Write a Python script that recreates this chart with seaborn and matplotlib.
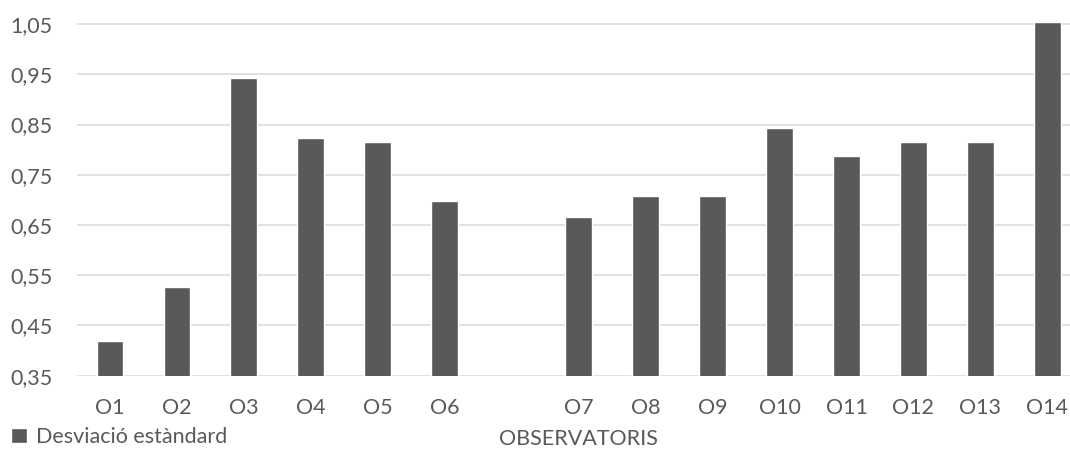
import matplotlib
matplotlib.use("Agg")
import matplotlib.pyplot as plt
import seaborn as sns
import numpy as np
import pandas as pd
from matplotlib.ticker import FixedLocator, FuncFormatter

categories = ["O1", "O2", "O3", "O4", "O5", "O6", "", "O7", "O8", "O9",
              "O10", "O11", "O12", "O13", "O14"]
values = [0.42, 0.526, 0.942, 0.823, 0.816, 0.698, np.nan, 0.666, 0.707,
          0.707, 0.843, 0.788, 0.816, 0.816, 1.054]
y_ticks = [0.35, 0.45, 0.55, 0.65, 0.75, 0.85, 0.95, 1.05]
series_name = "Desviació estàndard"
x_title = "OBSERVATORIS"

sns.set_theme(style="white")
plt.rcParams["font.family"] = ["Lato", "DejaVu Sans"]

df = pd.DataFrame({"cat": pd.Categorical(categories, categories=categories, ordered=True),
                   "val": values})

fig = plt.figure(figsize=(10.7, 4.51), dpi=100)
ax = fig.add_axes([76.5 / 1070, (451 - 375.7) / 451, (1080.8 - 76.5) / 1070,
                   (375.7 - 14) / 451])

sns.barplot(data=df, x="cat", y="val", order=categories, color="#595959",
            saturation=1, width=0.4, ax=ax, label=series_name, errorbar=None)

fs = 15.5
ax.set_ylim(0.35, 1.07)
ax.set_xlim(-0.5, 14.5)
ax.yaxis.set_major_locator(FixedLocator(y_ticks))
ax.yaxis.set_major_formatter(FuncFormatter(lambda v, p: f"{v:.2f}".replace(".", ",")))
ax.grid(axis="y", color="#d9d9d9", linewidth=1.1)
ax.set_axisbelow(True)
for s in ax.spines.values():
    s.set_visible(False)
ax.tick_params(axis="both", length=0, labelsize=fs, colors="#595959")
ax.tick_params(axis="y", pad=17)
ax.tick_params(axis="x", pad=16)
ax.set_ylabel("")
ax.set_xlabel("")
fig.text(578.6 / 1070, 1 - 439 / 451, x_title, ha="center", va="center",
         fontsize=fs, color="#595959")

leg = ax.legend(loc="center left", bbox_to_anchor=(0.0, 1 - 437 / 451),
                bbox_transform=fig.transFigure, frameon=False, fontsize=fs,
                handlelength=0.75, handleheight=0.75, handletextpad=0.4,
                borderpad=0, borderaxespad=0.5)
for t in leg.get_texts():
    t.set_color("#595959")

fig.savefig("out.png", dpi=100)
